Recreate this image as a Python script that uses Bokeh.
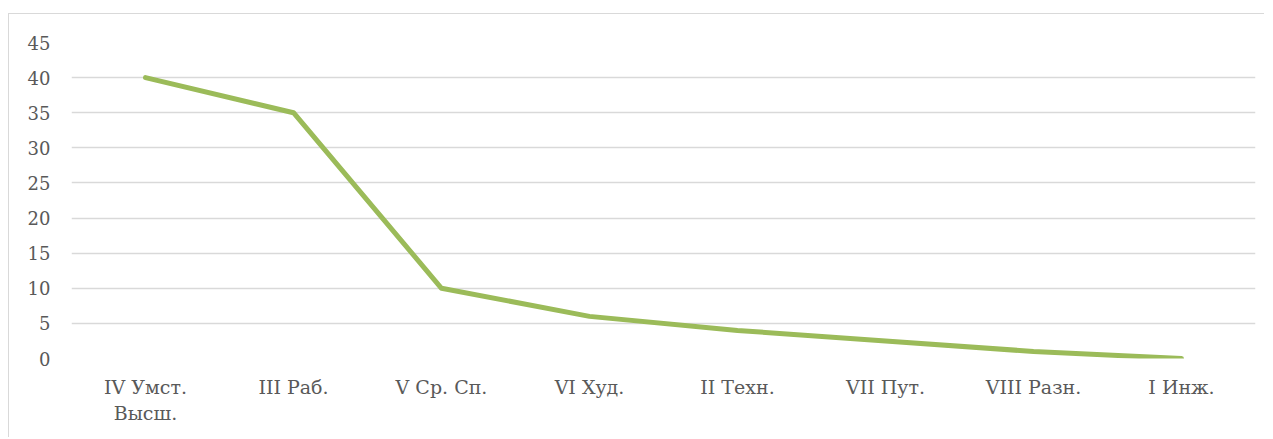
from bokeh.plotting import figure
from bokeh.models import Range1d, ColumnDataSource
from bokeh.embed import file_html
from bokeh.resources import INLINE

categories = ["IV Умст.\nВысш.", "III Раб.", "V Ср. Сп.", "VI Худ.", "II Техн.", "VII Пут.", "VIII Разн.", "I Инж."]
values = [40, 35, 10, 6, 4, 2.5, 1, 0]
y_ticks = [0, 5, 10, 15, 20, 25, 30, 35, 40, 45]

pos = list(range(len(categories)))
src = ColumnDataSource(dict(x=pos, val=values))

FONT = "DejaVu Serif"

p = figure(x_range=Range1d(-0.5, len(categories) - 0.5), y_range=Range1d(0, 45),
           width=1256, height=424, output_backend="svg", toolbar_location=None,
           min_border_left=62, min_border_right=10, min_border_top=28, min_border_bottom=80)
p.styles = {"border-left": "1px solid #d9d9d9", "border-top": "1px solid #d9d9d9",
            "margin-top": "13px", "margin-left": "8px"}
p.outline_line_color = None
p.background_fill_color = "white"

p.line(x="x", y="val", source=src, line_color="#9BBB59", line_width=5, line_cap="round", line_join="round")

p.yaxis.ticker = y_ticks
p.yaxis.axis_line_color = None
p.yaxis.major_tick_line_color = None
p.yaxis.minor_tick_line_color = None
p.yaxis.major_label_text_font = FONT
p.yaxis.major_label_text_font_size = "18px"
p.yaxis.major_label_text_color = "#595959"
p.yaxis.major_label_standoff = 15

p.xaxis.ticker = pos
p.xaxis.major_label_overrides = {i: c for i, c in enumerate(categories)}
p.xaxis.axis_line_color = None
p.xaxis.major_tick_line_color = None
p.xaxis.minor_tick_line_color = None
p.xaxis.major_label_text_font = FONT
p.xaxis.major_label_text_font_size = "19px"
p.xaxis.major_label_text_color = "#595959"
p.xaxis.major_label_standoff = 11

p.xgrid.grid_line_color = None
p.ygrid.grid_line_color = "#d9d9d9"
p.ygrid.grid_line_width = 1.5

open("out.html", "w").write(file_html(p, INLINE))
